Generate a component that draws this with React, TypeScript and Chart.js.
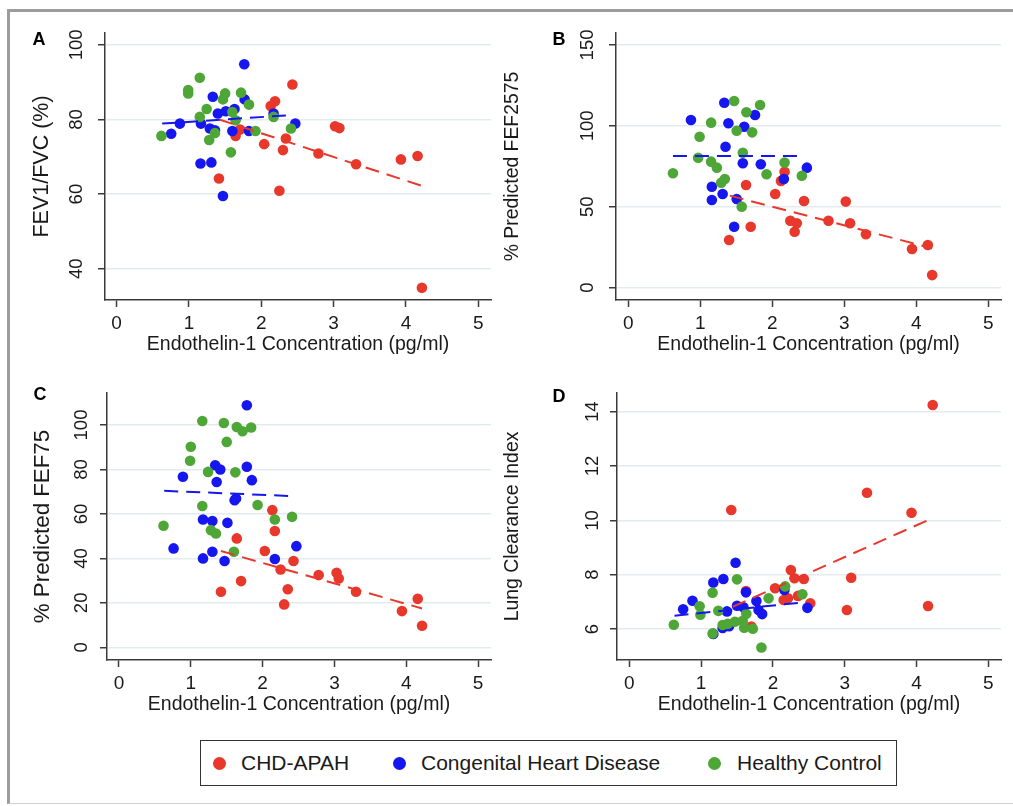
import React, { useEffect, useRef } from "react";
import { Chart, registerables } from "chart.js";

Chart.register(...registerables);

const FONT = "'Liberation Sans', Arial, Helvetica, sans-serif";
Chart.defaults.font.family = FONT;

// ---------- categories / colours ----------
const GROUPS = ["CHD-APAH", "Congenital Heart Disease", "Healthy Control"];
const GROUP_COLORS = ["#e8372b", "#1616ee", "#4ea636"];
const X_LABEL = "Endothelin-1 Concentration (pg/ml)";
const X_TICKS = [0, 1, 2, 3, 4, 5];

// ---------- Panel A : FEV1/FVC (%) ----------
const A_Y_TICKS = [40, 60, 80, 100];
const A_RED_X = [1.415, 1.645, 1.705, 2.04, 2.13, 2.19, 2.25, 2.3, 2.34, 2.43, 2.79, 3.02, 3.08, 3.31, 3.93, 4.16, 4.22];
const A_RED_Y = [64.2, 75.6, 77.3, 73.4, 83.6, 84.9, 60.9, 71.8, 74.9, 89.4, 70.9, 78.2, 77.7, 68.0, 69.3, 70.2, 34.9];
const A_BLUE_X = [0.755, 0.875, 1.16, 1.166, 1.29, 1.31, 1.33, 1.36, 1.4, 1.47, 1.51, 1.6, 1.63, 1.765, 1.77, 1.83, 2.17, 2.47];
const A_BLUE_Y = [76.2, 78.9, 68.2, 78.9, 77.6, 68.5, 86.1, 77.1, 81.6, 59.5, 82.2, 76.9, 82.8, 94.8, 85.4, 76.9, 81.6, 78.9];
const A_GREEN_X = [0.62, 0.99, 0.99, 1.15, 1.15, 1.245, 1.28, 1.36, 1.47, 1.5, 1.58, 1.6, 1.645, 1.72, 1.83, 1.92, 2.17, 2.41];
const A_GREEN_Y = [75.6, 87.9, 87.0, 91.2, 80.7, 82.8, 74.5, 76.4, 85.4, 87.0, 71.2, 82.0, 79.8, 87.2, 84.0, 76.9, 80.7, 77.6];
const A_RED_FIT_X = [1.42, 4.22];
const A_RED_FIT_Y = [80.0, 62.2];
const A_BLUE_FIT_X = [0.63, 2.42];
const A_BLUE_FIT_Y = [78.9, 81.2];

// ---------- Panel B : % Predicted FEF2575 ----------
const B_Y_TICKS = [0, 50, 100, 150];
const B_RED_X = [1.4, 1.635, 1.7, 2.04, 2.12, 2.17, 2.25, 2.31, 2.34, 2.44, 2.78, 3.02, 3.08, 3.3, 3.94, 4.16, 4.22];
const B_RED_Y = [29.5, 63.5, 37.7, 57.9, 66.0, 71.7, 41.4, 34.6, 39.8, 53.6, 41.4, 53.2, 39.8, 33.0, 23.9, 26.4, 7.8];
const B_BLUE_X = [0.87, 1.16, 1.16, 1.31, 1.333, 1.35, 1.39, 1.47, 1.505, 1.59, 1.61, 1.76, 1.84, 2.16, 2.48];
const B_BLUE_Y = [103.6, 62.4, 54.2, 57.9, 114.3, 87.1, 101.6, 37.7, 54.8, 76.9, 99.5, 106.7, 76.3, 67.2, 74.2];
const B_GREEN_X = [0.62, 0.97, 0.99, 1.15, 1.15, 1.23, 1.29, 1.34, 1.47, 1.505, 1.575, 1.59, 1.64, 1.72, 1.83, 1.92, 2.17, 2.41];
const B_GREEN_Y = [70.7, 80.3, 93.3, 102.0, 77.9, 74.2, 64.9, 67.2, 115.4, 97.0, 50.1, 83.4, 108.4, 96.0, 112.9, 70.1, 77.3, 69.2];
const B_RED_FIT_X = [1.41, 4.22];
const B_RED_FIT_Y = [56.9, 24.4];
const B_BLUE_FIT_X = [0.62, 2.44];
const B_BLUE_FIT_Y = [81.4, 81.4];

// ---------- Panel C : % Predicted FEF75 ----------
const C_Y_TICKS = [0, 20, 40, 60, 80, 100];
const C_RED_X = [1.42, 1.64, 1.7, 2.03, 2.135, 2.17, 2.25, 2.3, 2.35, 2.43, 2.78, 3.03, 3.06, 3.3, 3.94, 4.16, 4.22];
const C_RED_Y = [25.0, 49.0, 29.8, 43.3, 61.7, 52.3, 35.0, 19.3, 26.1, 38.8, 32.5, 33.5, 31.0, 25.0, 16.3, 21.8, 9.7];
const C_BLUE_X = [0.76, 0.89, 1.17, 1.17, 1.3, 1.3, 1.34, 1.36, 1.41, 1.47, 1.51, 1.61, 1.63, 1.78, 1.78, 1.85, 2.17, 2.47];
const C_BLUE_Y = [44.5, 76.7, 57.5, 40.0, 56.8, 43.0, 81.9, 74.4, 80.0, 38.8, 56.0, 66.2, 67.0, 108.9, 81.2, 75.2, 39.7, 45.5];
const C_GREEN_X = [0.62, 0.99, 1.0, 1.16, 1.16, 1.24, 1.28, 1.35, 1.46, 1.5, 1.6, 1.62, 1.64, 1.72, 1.84, 1.93, 2.17, 2.41];
const C_GREEN_Y = [54.7, 83.9, 90.2, 101.8, 63.6, 78.9, 52.7, 51.2, 100.9, 92.4, 43.0, 78.7, 99.1, 97.2, 98.9, 64.0, 57.5, 58.7];
const C_RED_FIT_X = [1.42, 4.22];
const C_RED_FIT_Y = [43.3, 17.5];
const C_BLUE_FIT_X = [0.63, 2.45];
const C_BLUE_FIT_Y = [70.4, 68.0];

// ---------- Panel D : Lung Clearance Index ----------
const D_Y_TICKS = [6, 8, 10, 12, 14];
const D_RED_X = [1.42, 1.625, 1.7, 2.03, 2.15, 2.21, 2.25, 2.3, 2.35, 2.43, 2.52, 3.03, 3.09, 3.31, 3.93, 4.16, 4.225];
const D_RED_Y = [10.38, 7.4, 6.09, 7.5, 7.07, 7.13, 8.17, 7.87, 7.22, 7.84, 6.95, 6.7, 7.89, 11.02, 10.28, 6.85, 14.25];
const D_BLUE_X = [0.75, 0.88, 1.17, 1.17, 1.3, 1.31, 1.36, 1.39, 1.48, 1.5, 1.59, 1.625, 1.77, 1.8, 1.85, 2.16, 2.48];
const D_BLUE_Y = [6.73, 7.04, 7.71, 5.82, 6.04, 7.84, 6.65, 6.1, 8.44, 6.86, 6.8, 7.35, 7.03, 6.7, 6.55, 7.44, 6.78];
const D_GREEN_X = [0.62, 0.98, 0.99, 1.16, 1.16, 1.24, 1.3, 1.37, 1.47, 1.5, 1.58, 1.63, 1.6, 1.72, 1.84, 1.94, 2.17, 2.41];
const D_GREEN_Y = [6.16, 6.84, 6.53, 7.34, 5.84, 6.67, 6.15, 6.19, 6.27, 7.83, 6.3, 6.56, 6.05, 6.01, 5.32, 7.13, 7.57, 7.28];
const D_RED_FIT_X = [1.44, 4.22];
const D_RED_FIT_Y = [6.82, 10.08];
const D_BLUE_FIT_X = [0.63, 2.41];
const D_BLUE_FIT_Y = [6.49, 6.98];

const zip = (xs: number[], ys: number[]) => xs.map((x, i) => ({ x, y: ys[i] }));

type PanelData = {
  letter: string;
  yTitle: string;
  yTicks: number[];
  xRange: [number, number];
  yRange: [number, number];
  groups: { xs: number[]; ys: number[] }[];
  fits: { xs: number[]; ys: number[]; color: number }[];
};

const PANEL_DATA: PanelData[] = [
  {
    letter: "A", yTitle: "FEV1/FVC (%)", yTicks: A_Y_TICKS, xRange: [-0.16, 5.175], yRange: [31.6, 103.2],
    groups: [{ xs: A_RED_X, ys: A_RED_Y }, { xs: A_BLUE_X, ys: A_BLUE_Y }, { xs: A_GREEN_X, ys: A_GREEN_Y }],
    fits: [{ xs: A_RED_FIT_X, ys: A_RED_FIT_Y, color: 0 }, { xs: A_BLUE_FIT_X, ys: A_BLUE_FIT_Y, color: 1 }],
  },
  {
    letter: "B", yTitle: "% Predicted FEF2575", yTicks: B_Y_TICKS, xRange: [-0.171, 5.176], yRange: [-7.6, 157.4],
    groups: [{ xs: B_RED_X, ys: B_RED_Y }, { xs: B_BLUE_X, ys: B_BLUE_Y }, { xs: B_GREEN_X, ys: B_GREEN_Y }],
    fits: [{ xs: B_RED_FIT_X, ys: B_RED_FIT_Y, color: 0 }, { xs: B_BLUE_FIT_X, ys: B_BLUE_FIT_Y, color: 1 }],
  },
  {
    letter: "C", yTitle: "% Predicted FEF75", yTicks: C_Y_TICKS, xRange: [-0.167, 5.18], yRange: [-5.7, 114.4],
    groups: [{ xs: C_RED_X, ys: C_RED_Y }, { xs: C_BLUE_X, ys: C_BLUE_Y }, { xs: C_GREEN_X, ys: C_GREEN_Y }],
    fits: [{ xs: C_RED_FIT_X, ys: C_RED_FIT_Y, color: 0 }, { xs: C_BLUE_FIT_X, ys: C_BLUE_FIT_Y, color: 1 }],
  },
  {
    letter: "D", yTitle: "Lung Clearance Index", yTicks: D_Y_TICKS, xRange: [-0.171, 5.176], yRange: [4.86, 14.69],
    groups: [{ xs: D_RED_X, ys: D_RED_Y }, { xs: D_BLUE_X, ys: D_BLUE_Y }, { xs: D_GREEN_X, ys: D_GREEN_Y }],
    fits: [{ xs: D_RED_FIT_X, ys: D_RED_FIT_Y, color: 0 }, { xs: D_BLUE_FIT_X, ys: D_BLUE_FIT_Y, color: 1 }],
  },
];

// ---------- layout / styles ----------
type PanelLayout = {
  left: number; top: number; width: number; height: number;
  padTop: number; padRight: number; yWidth: number; xHeight: number;
  yTitleSize: number; yTitlePad: number; yTickOffset: number;
  letterDx: number; letterDy: number;
};

const PANEL_LAYOUT: PanelLayout[] = [
  { left: 10, top: 12, width: 490, height: 355, padTop: 21, padRight: 9, yWidth: 95, xHeight: 67, yTitleSize: 21.5, yTitlePad: 19, yTickOffset: 28, letterDx: 66, letterDy: 7 },
  { left: 496, top: 12, width: 514, height: 355, padTop: 21, padRight: 9, yWidth: 120, xHeight: 67, yTitleSize: 19.4, yTitlePad: 5.4, yTickOffset: 28, letterDx: 57, letterDy: 7 },
  { left: 10, top: 372, width: 490, height: 355, padTop: 21, padRight: 9, yWidth: 97, xHeight: 67, yTitleSize: 22.3, yTitlePad: 19.6, yTickOffset: 25, letterDx: 67, letterDy: 2 },
  { left: 496, top: 372, width: 514, height: 355, padTop: 21, padRight: 9, yWidth: 121, xHeight: 67, yTitleSize: 19.4, yTitlePad: 5.4, yTickOffset: 24, letterDx: 58, letterDy: 4 },
];

const TEXT_COLOR = "#1a1a1a";
const AXIS_COLOR = "#3a3a3a";
const GRID_COLOR = "#e2ecee";

function Panel({ data, layout }: { data: PanelData; layout: PanelLayout }) {
  const ref = useRef<HTMLCanvasElement | null>(null);

  useEffect(() => {
    if (!ref.current) return;

    const extras = {
      id: "panelExtras",
      afterDraw(chart: any) {
        const ctx = chart.ctx;
        const s = chart.scales.y;
        const area = chart.chartArea;
        ctx.save();
        ctx.fillStyle = TEXT_COLOR;
        ctx.textAlign = "center";
        ctx.textBaseline = "middle";
        ctx.font = `18.5px ${FONT}`;
        s.ticks.forEach((t: any) => {
          const py = s.getPixelForValue(t.value);
          ctx.save();
          ctx.translate(area.left - layout.yTickOffset, py);
          ctx.rotate(-Math.PI / 2);
          ctx.fillText(String(t.value), 0, 0);
          ctx.restore();
        });
        ctx.font = `bold 18px ${FONT}`;
        ctx.fillStyle = "#000";
        ctx.fillText(data.letter, area.left - layout.letterDx, area.top + layout.letterDy);
        ctx.restore();
      },
    };

    const datasets: any[] = [];
    data.fits.forEach((f) => {
      datasets.push({
        data: zip(f.xs, f.ys),
        showLine: true,
        borderColor: GROUP_COLORS[f.color],
        borderWidth: 2,
        borderDash: [14, 8],
        pointRadius: 0,
        fill: false,
        order: 0,
      });
    });
    const drawOrder = [3, 2, 1];
    data.groups.forEach((g, i) => {
      datasets.push({
        label: GROUPS[i],
        data: zip(g.xs, g.ys),
        backgroundColor: GROUP_COLORS[i],
        borderWidth: 0,
        pointRadius: 5.3,
        pointHoverRadius: 5.3,
        order: drawOrder[i],
      });
    });

    const chart = new Chart(ref.current, {
      type: "scatter",
      data: { datasets },
      options: {
        animation: false,
        responsive: true,
        maintainAspectRatio: false,
        events: [],
        layout: { padding: { top: layout.padTop, right: layout.padRight, left: 0, bottom: 0 } },
        plugins: { legend: { display: false }, tooltip: { enabled: false } },
        scales: {
          x: {
            type: "linear",
            min: data.xRange[0],
            max: data.xRange[1],
            afterBuildTicks: (s: any) => {
              s.ticks = X_TICKS.map((v) => ({ value: v }));
            },
            afterFit: (s: any) => {
              s.height = layout.xHeight;
            },
            grid: { drawOnChartArea: false, drawTicks: true, tickLength: 7, tickColor: AXIS_COLOR, tickWidth: 1.5 },
            border: { display: true, color: AXIS_COLOR, width: 1.5 },
            ticks: { font: { size: 19 }, color: TEXT_COLOR, padding: 5, maxRotation: 0 },
            title: { display: true, text: X_LABEL, font: { size: 19.5 }, color: TEXT_COLOR, padding: { top: 0, bottom: 11 } },
          },
          y: {
            type: "linear",
            min: data.yRange[0],
            max: data.yRange[1],
            afterBuildTicks: (s: any) => {
              s.ticks = data.yTicks.map((v) => ({ value: v }));
            },
            afterFit: (s: any) => {
              s.width = layout.yWidth;
            },
            grid: { color: GRID_COLOR, lineWidth: 1.5, drawTicks: true, tickLength: 7, tickColor: AXIS_COLOR, tickWidth: 1.5 },
            border: { display: true, color: AXIS_COLOR, width: 1.5 },
            ticks: { display: false },
            title: { display: true, text: data.yTitle, font: { size: layout.yTitleSize }, color: TEXT_COLOR, padding: { top: layout.yTitlePad, bottom: 0 } },
          },
        },
      } as any,
      plugins: [extras],
    });
    return () => chart.destroy();
  }, [data, layout]);

  return (
    <div style={{ position: "absolute", left: layout.left, top: layout.top, width: layout.width, height: layout.height }}>
      <canvas ref={ref} />
    </div>
  );
}

const LEGEND_BOX = { left: 200, top: 740, width: 697, height: 46 };
const LEGEND_DOT_X = [18, 198, 513.5];
const LEGEND_TEXT_X = [40, 220, 536];

export default function App() {
  return (
    <div style={{ position: "fixed", left: 0, top: 0, width: 1013, height: 806, background: "#fff", overflow: "hidden", fontFamily: FONT }}>
      <div
        style={{
          position: "absolute", left: 7, top: 9, width: 1020, height: 795,
          borderTop: "3px solid #9c9c9c", borderLeft: "3px solid #9c9c9c", borderBottom: "1px solid #cfcfcf",
          boxSizing: "border-box",
        }}
      />
      {PANEL_DATA.map((d, i) => (
        <Panel key={d.letter} data={d} layout={PANEL_LAYOUT[i]} />
      ))}
      <div
        style={{
          position: "absolute", left: LEGEND_BOX.left, top: LEGEND_BOX.top, width: LEGEND_BOX.width, height: LEGEND_BOX.height,
          border: "1.5px solid #333", boxSizing: "border-box",
        }}
      >
        {GROUPS.map((g, i) => (
          <React.Fragment key={g}>
            <span
              style={{
                position: "absolute", left: LEGEND_DOT_X[i] - 6.5, top: "50%", marginTop: -6.5, width: 13, height: 13,
                borderRadius: "50%", background: GROUP_COLORS[i],
              }}
            />
            <span
              style={{
                position: "absolute", left: LEGEND_TEXT_X[i], top: 0, bottom: 0, display: "flex", alignItems: "center",
                fontSize: 21, color: TEXT_COLOR, whiteSpace: "nowrap",
              }}
            >
              {g}
            </span>
          </React.Fragment>
        ))}
      </div>
    </div>
  );
}
